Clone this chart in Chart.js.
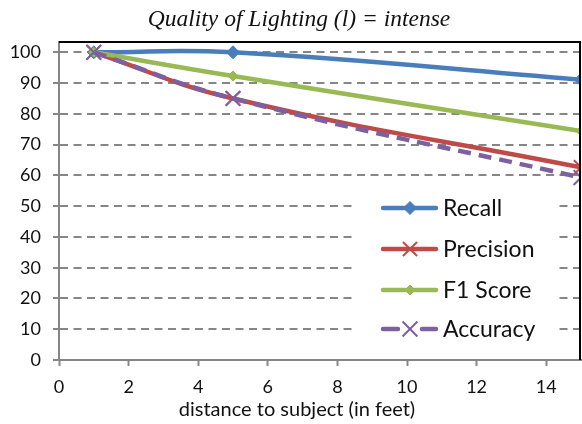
<!DOCTYPE html>
<html>
<head>
<meta charset="utf-8">
<script src="https://cdn.jsdelivr.net/npm/chart.js@4.4.1/dist/chart.umd.min.js"></script>
<style>
  html, body { margin: 0; padding: 0; background: #fff; }
  #wrap { width: 582px; height: 424px; }
</style>
</head>
<body>
<div id="wrap"><canvas id="myChart" width="582" height="424"></canvas></div>
<script>
const chartTitle = 'Quality of Lighting (l) = intense';
const xAxisTitle = 'distance to subject (in feet)';

const distances = [1, 5, 15];
const recall = [100, 100, 91.1];
const precision = [100, 85, 62.6];
const f1Score = [100, 92.3, 74.4];
const accuracy = [100, 85, 59.3];

const xTickValues = [0, 2, 4, 6, 8, 10, 12, 14];
const yTickValues = [0, 10, 20, 30, 40, 50, 60, 70, 80, 90, 100];

const seriesNames = ['Recall', 'Precision', 'F1 Score', 'Accuracy'];
const seriesColors = ['#4A7EBB', '#BE4B48', '#98B954', '#7D60A0'];

const gridGray = '#868686';

function toPoints(values) {
    return distances.map((d, i) => ({ x: d, y: values[i] }));
}

// title, axis title, top/right frame and the legend inside the plot
const decorPlugin = {
    id: 'decor',
    beforeDatasetsDraw(chart) {
        // legend box hides the gridlines behind it
        const ctx = chart.ctx;
        ctx.save();
        ctx.fillStyle = '#fff';
        ctx.fillRect(352, 186, 206, 162);
        ctx.restore();
    },
    afterDraw(chart) {
        const ctx = chart.ctx;
        const area = chart.chartArea;
        ctx.save();

        ctx.strokeStyle = '#000';
        ctx.lineWidth = 2;
        ctx.beginPath();
        ctx.moveTo(area.left, area.top);
        ctx.lineTo(area.right - 1, area.top);
        ctx.lineTo(area.right - 1, area.bottom);
        ctx.stroke();

        ctx.fillStyle = '#111';
        ctx.textAlign = 'center';
        ctx.textBaseline = 'middle';
        ctx.font = 'italic 23.5px "Liberation Serif"';
        ctx.fillText(chartTitle, 299, 20);

        ctx.font = '20px Lato';
        ctx.fillText(xAxisTitle, 297, 410);

        // legend
        const rows = [208, 249, 290, 329];
        chart.data.datasets.forEach((ds, i) => {
            const y = rows[i];
            const dashed = i === 3;
            ctx.strokeStyle = ds.borderColor;
            ctx.fillStyle = ds.borderColor;
            ctx.lineWidth = 4.5;
            ctx.lineCap = 'round';
            ctx.setLineDash([]);
            ctx.beginPath();
            if (dashed) {
                ctx.moveTo(383, y); ctx.lineTo(398, y);
                ctx.moveTo(422, y); ctx.lineTo(436, y);
            } else {
                ctx.moveTo(383, y); ctx.lineTo(436, y);
            }
            ctx.stroke();
            ctx.lineCap = 'butt';
            ctx.lineWidth = ds.pointBorderWidth;
            Chart.helpers.drawPoint(ctx, {
                pointStyle: ds.pointStyle,
                radius: ds.pointRadius,
                borderWidth: ds.pointBorderWidth,
                rotation: 0
            }, 410, y);
            ctx.fillStyle = '#111';
            ctx.textAlign = 'left';
            ctx.font = '23px Lato';
            ctx.fillText(ds.label, 443, y + 1);
        });
        ctx.restore();
    }
};

function makeDataset(i, values, extra) {
    return Object.assign({
        label: seriesNames[i],
        data: toPoints(values),
        borderColor: seriesColors[i],
        backgroundColor: seriesColors[i],
        pointBackgroundColor: seriesColors[i],
        pointBorderColor: seriesColors[i],
        borderWidth: 4.5,
        tension: 0.45
    }, extra);
}

const datasets = [
    makeDataset(0, recall, { pointStyle: 'rectRot', pointRadius: 6.5, pointBorderWidth: 1, order: 3 }),
    makeDataset(1, precision, { pointStyle: 'crossRot', pointRadius: 10, pointBorderWidth: 2, order: 2 }),
    makeDataset(2, f1Score, { pointStyle: 'rectRot', pointRadius: 5, pointBorderWidth: 1, order: 1 }),
    makeDataset(3, accuracy, { pointStyle: 'crossRot', pointRadius: 10.5, pointBorderWidth: 2, borderDash: [13, 8], order: 0 })
];

let ctx = document.getElementById('myChart').getContext('2d');
let myChart = new Chart(ctx, {
    type: 'line',
    data: { datasets: datasets },
    plugins: [decorPlugin],
    options: {
        responsive: false,
        animation: false,
        layout: { autoPadding: false, padding: { top: 42, right: 1, left: 0, bottom: 0 } },
        plugins: {
            legend: { display: false },
            title: { display: false },
            tooltip: { enabled: false }
        },
        scales: {
            x: {
                type: 'linear',
                min: 0,
                max: 15,
                afterBuildTicks(scale) {
                    scale.ticks = xTickValues.map(v => ({ value: v }));
                },
                afterFit(scale) {
                    scale.height = 64;
                    scale.paddingLeft = 0;
                    scale.paddingRight = 0;
                },
                ticks: { autoSkip: false, includeBounds: false, padding: 10, color: '#111', font: { family: 'Lato', size: 18 } },
                grid: { drawOnChartArea: false, drawTicks: true, tickLength: 6, tickColor: gridGray, tickWidth: 2 },
                border: { display: true, color: gridGray, width: 2 }
            },
            y: {
                min: 0,
                max: 103.35,
                afterBuildTicks(scale) {
                    scale.ticks = yTickValues.map(v => ({ value: v }));
                },
                afterFit(scale) {
                    scale.width = 59;
                    scale.paddingTop = 0;
                    scale.paddingBottom = 0;
                },
                ticks: { autoSkip: false, includeBounds: false, padding: 12, color: '#111', font: { family: 'Lato', size: 18 } },
                grid: {
                    color: (c) => c.tick && c.tick.value === 0 ? 'rgba(0,0,0,0)' : gridGray,
                    lineWidth: 2,
                    drawTicks: true,
                    tickLength: 6,
                    tickColor: gridGray,
                    tickWidth: 2,
                    tickBorderDash: []
                },
                border: { display: true, color: gridGray, width: 2, dash: [8, 5.5] }
            }
        }
    }
});
</script>
</body>
</html>
